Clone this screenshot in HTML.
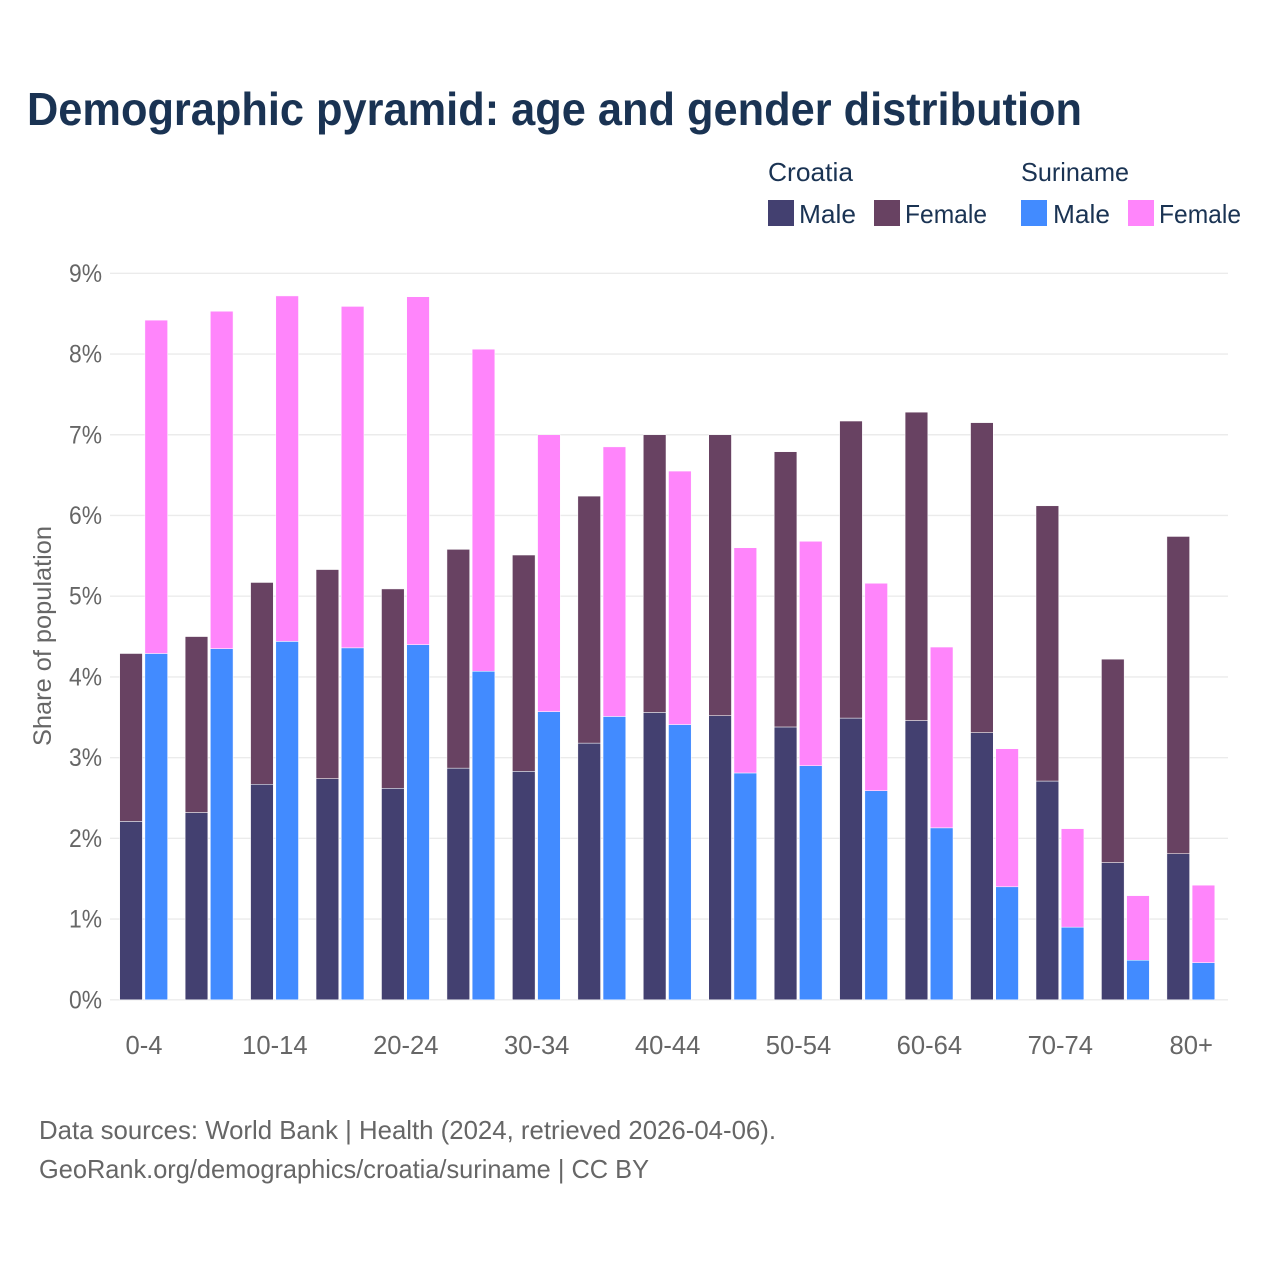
<!DOCTYPE html>
<html lang="en">
<head>
<meta charset="utf-8">
<title>Demographic pyramid: age and gender distribution</title>
<style>
html,body{margin:0;padding:0;background:#fff;width:1280px;height:1280px;overflow:hidden}
svg{display:block}
text{font-family:"Liberation Sans",sans-serif}
</style>
</head>
<body>
<svg id="chart" xmlns="http://www.w3.org/2000/svg" width="1280" height="1280" viewBox="0 0 1280 1280">
  <rect width="1280" height="1280" fill="#fff"/>
  <text x="27" y="125" font-size="46" font-weight="700" fill="#1a3353" textLength="1055" lengthAdjust="spacingAndGlyphs">Demographic pyramid: age and gender distribution</text>

  <g font-size="26" fill="#1a3353">
    <text x="768" y="181" textLength="85" lengthAdjust="spacingAndGlyphs">Croatia</text>
    <text x="1021" y="181" textLength="108" lengthAdjust="spacingAndGlyphs">Suriname</text>
    <rect x="768" y="200" width="26" height="26" fill="#434070"/>
    <text x="799" y="223" textLength="57" lengthAdjust="spacingAndGlyphs">Male</text>
    <rect x="874" y="200" width="26" height="26" fill="#684262"/>
    <text x="905" y="223" textLength="82" lengthAdjust="spacingAndGlyphs">Female</text>
    <rect x="1021" y="200" width="26" height="26" fill="#428bff"/>
    <text x="1053" y="223" textLength="57" lengthAdjust="spacingAndGlyphs">Male</text>
    <rect x="1128" y="200" width="26" height="26" fill="#ff85fb"/>
    <text x="1159" y="223" textLength="82" lengthAdjust="spacingAndGlyphs">Female</text>
  </g>

  <g id="grid"></g>
  <g id="yticks" font-size="25" fill="#666666" text-anchor="end"></g>
  <g id="bars"></g>
  <g id="xticks" font-size="25.6" fill="#666666" text-anchor="middle"></g>

  <text transform="translate(51,636) rotate(-90)" text-anchor="middle" font-size="25" fill="#666666" textLength="220" lengthAdjust="spacingAndGlyphs">Share of population</text>

  <g font-size="26" fill="#666666">
    <text x="39" y="1139" textLength="737" lengthAdjust="spacingAndGlyphs">Data sources: World Bank | Health (2024, retrieved 2026-04-06).</text>
    <text x="39" y="1178" textLength="610" lengthAdjust="spacingAndGlyphs">GeoRank.org/demographics/croatia/suriname | CC BY</text>
  </g>
</svg>
<script>
const categories = ["0-4","5-9","10-14","15-19","20-24","25-29","30-34","35-39","40-44","45-49","50-54","55-59","60-64","65-69","70-74","75-79","80+"];
const xTickLabels = ["0-4","","10-14","","20-24","","30-34","","40-44","","50-54","","60-64","","70-74","","80+"];
const yTickValues = [0,1,2,3,4,5,6,7,8,9];
const croatiaMale = [2.21,2.32,2.67,2.74,2.62,2.87,2.83,3.18,3.56,3.52,3.38,3.49,3.46,3.31,2.71,1.70,1.81];
const croatiaFemale = [2.08,2.18,2.50,2.59,2.47,2.71,2.68,3.06,3.44,3.48,3.41,3.68,3.82,3.84,3.41,2.52,3.93];
const surinameMale = [4.29,4.35,4.44,4.36,4.40,4.07,3.57,3.51,3.41,2.81,2.90,2.59,2.13,1.40,0.90,0.49,0.46];
const surinameFemale = [4.13,4.18,4.28,4.23,4.31,3.99,3.43,3.34,3.14,2.79,2.78,2.57,2.24,1.71,1.22,0.80,0.96];

const NS = "http://www.w3.org/2000/svg";
const y0 = 999.8, yPerUnit = 80.72;
const x0 = 144, band = 65.45, barW = 22.7, barOffset = 24.3;
function yScale(v){ return y0 - v * yPerUnit; }
function xScale(i){ return x0 + i * band; }

const grid = document.getElementById("grid");
const yticks = document.getElementById("yticks");
const xticks = document.getElementById("xticks");
const bars = document.getElementById("bars");

yTickValues.forEach(function(v){
  const line = document.createElementNS(NS, "line");
  line.setAttribute("x1", 110);
  line.setAttribute("x2", 1228);
  line.setAttribute("y1", yScale(v));
  line.setAttribute("y2", yScale(v));
  line.setAttribute("stroke", "#ebebeb");
  line.setAttribute("stroke-width", "1.4");
  
  
  grid.appendChild(line);

  const t = document.createElementNS(NS, "text");
  t.setAttribute("x", 102);
  t.setAttribute("y", yScale(v) + 8.5);
  t.setAttribute("textLength", 33);
  t.setAttribute("lengthAdjust", "spacingAndGlyphs");
  t.textContent = v + "%";
  
  
  yticks.appendChild(t);
});

xTickLabels.forEach(function(label, i){
  if (!label) return;
  const t = document.createElementNS(NS, "text");
  t.setAttribute("x", xScale(i));
  t.setAttribute("y", 1054);
  t.textContent = label;
  
  
  xticks.appendChild(t);
});

function addBar(x, base, value, fill, name, category){
  const r = document.createElementNS(NS, "rect");
  r.setAttribute("x", x);
  r.setAttribute("y", yScale(base + value));
  r.setAttribute("width", barW);
  r.setAttribute("height", yScale(base) - yScale(base + value));
  r.setAttribute("fill", fill);
  r.setAttribute("stroke", "#ffffff");
  r.setAttribute("stroke-width", "0.5");
  
  
  const tip = document.createElementNS(NS, "title");
  tip.textContent = category + ": " + value.toFixed(2) + "%";
  r.appendChild(tip);
  bars.appendChild(r);
}

categories.forEach(function(c, i){
  const cx = xScale(i);
  const xa = cx - barOffset, xb = cx + 0.9;
  addBar(xa, 0, croatiaMale[i], "#434070", "bar-croatia-male", c);
  addBar(xa, croatiaMale[i], croatiaFemale[i], "#684262", "bar-croatia-female", c);
  addBar(xb, 0, surinameMale[i], "#428bff", "bar-suriname-male", c);
  addBar(xb, surinameMale[i], surinameFemale[i], "#ff85fb", "bar-suriname-female", c);
});
</script>
</body>
</html>
